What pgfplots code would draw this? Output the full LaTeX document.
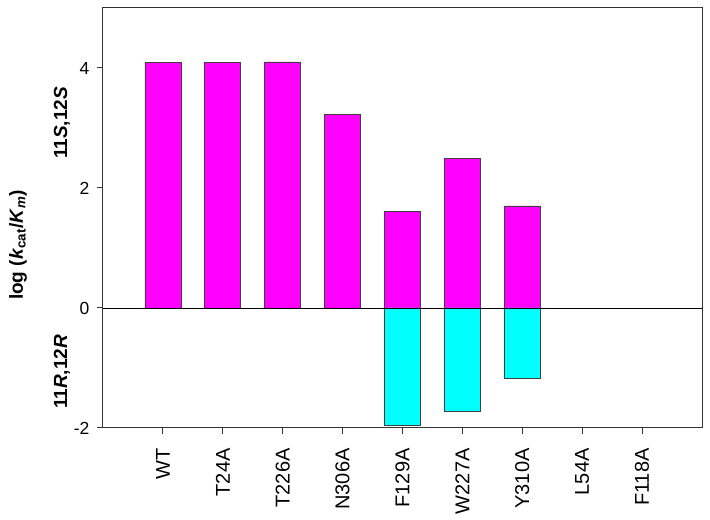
\documentclass[border=0pt]{standalone}
\usepackage{pgfplots}
\pgfplotsset{compat=1.18}
\usepackage{fontspec}
\setmainfont{Liberation Sans}
\pgfplotstableread{
x y
0 4.09
1 4.09
2 4.10
3 3.23
4 1.61
5 2.49
6 1.70
}\pos
\pgfplotstableread{
x y
4 -1.95
5 -1.73
6 -1.18
}\negs
\begin{document}
\begin{tikzpicture}
\begin{axis}[name=ax,
  scale only axis, width=599pt, height=420pt,
  xmin=-1, xmax=9, ymin=-2, ymax=5,
  axis line style={draw=black!80, line width=1pt},
  xtick={0,...,8},
  xticklabels={WT,T24A,T226A,N306A,F129A,W227A,Y310A,L54A,F118A},
  x tick label style={rotate=90, anchor=east, font=\fontsize{20}{24}\selectfont},
  xticklabel shift=11pt,
  ytick={-2,0,2,4},
  y tick label style={font=\fontsize{17.5}{21}\selectfont},
  yticklabel shift=4pt,
  /pgf/number format/assume math mode=true,
  tick align=outside, tick pos=left,
  major tick length=6pt,
  tick style={draw=black!80, line width=1pt},
  ybar, bar width=0.6, bar shift=0pt,
  clip=false,
]
\addplot[fill={rgb,255:red,255;green,0;blue,255}, draw=black!75, line width=0.7pt] table[x=x,y=y]{\pos};
\addplot[fill={rgb,255:red,0;green,255;blue,255}, draw=black!75, line width=0.7pt] table[x=x,y=y]{\negs};
\draw[black, line width=0.8pt] (axis cs:-1,0) -- (axis cs:9,0);
\end{axis}
\node[rotate=90, font=\bfseries\fontsize{19}{22}\selectfont] at ([shift={(-85pt,-27pt)}]ax.west) {log (\textbf{\textit{k}}\textsubscript{cat}/\textbf{\textit{K}}\textsubscript{\textit{m}})};
\node[rotate=90, font=\bfseries\fontsize{19}{22}\selectfont] at ([shift={(-41pt,-115pt)}]ax.north west) {11\textit{S},12\textit{S}};
\node[rotate=90, font=\bfseries\fontsize{19}{22}\selectfont] at ([shift={(-41pt,56pt)}]ax.south west) {11\textit{R},12\textit{R}};
\pgfresetboundingbox
\useasboundingbox ([shift={(-103pt,-92pt)}]ax.south west) rectangle ([shift={(8pt,8pt)}]ax.north east);
\end{tikzpicture}
\end{document}
